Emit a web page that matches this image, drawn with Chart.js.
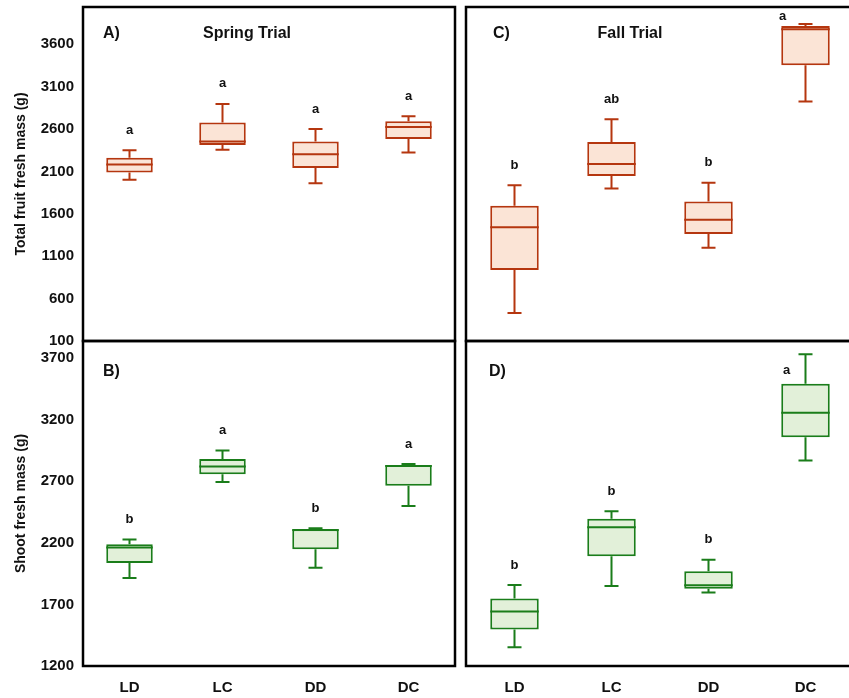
<!DOCTYPE html>
<html>
<head>
<meta charset="utf-8">
<script src="https://cdn.jsdelivr.net/npm/chart.js@4"></script>
<style>
  html, body { margin: 0; padding: 0; background: #fff; width: 849px; height: 698px; overflow: hidden; }
  canvas { position: absolute; }
</style>
</head>
<body>
<canvas id="panelA" width="470" height="362" style="left:0;top:0"></canvas>
<canvas id="panelC" width="410" height="362" style="left:456px;top:0"></canvas>
<canvas id="panelB" width="470" height="368" style="left:0;top:330px"></canvas>
<canvas id="panelD" width="410" height="368" style="left:456px;top:330px"></canvas>
<script>
const categories = ['LD', 'LC', 'DD', 'DC'];

const fruitTicks = [100, 600, 1100, 1600, 2100, 2600, 3100, 3600];
const shootTicks = [1200, 1700, 2200, 2700, 3200, 3700];

// Spring trial, total fruit fresh mass (g)
const springFruitLow    = [2002, 2357, 1962, 2325];
const springFruitQ1     = [2089, 2412, 2140, 2483];
const springFruitMedian = [2183, 2452, 2302, 2625];
const springFruitQ3     = [2263, 2677, 2452, 2692];
const springFruitHigh   = [2349, 2897, 2601, 2751];
const springFruitLetters = ['a', 'a', 'a', 'a'];

// Fall trial, total fruit fresh mass (g)
const fallFruitLow    = [431, 1899, 1201, 2925];
const fallFruitQ1     = [937, 2047, 1363, 3352];
const fallFruitMedian = [1441, 2187, 1529, 3778];
const fallFruitQ3     = [1694, 2447, 1745, 3817];
const fallFruitHigh   = [1938, 2716, 1967, 3840];
const fallFruitLetters = ['b', 'ab', 'b', 'a'];

// Spring trial, shoot fresh mass (g)
const springShootLow    = [1915, 2694, 1999, 2499];
const springShootQ1     = [2037, 2757, 2148, 2665];
const springShootMedian = [2162, 2820, 2305, 2825];
const springShootQ3     = [2189, 2882, 2311, 2833];
const springShootHigh   = [2227, 2950, 2319, 2841];
const springShootLetters = ['b', 'a', 'b', 'a'];

// Fall trial, shoot fresh mass (g)
const fallShootLow    = [1352, 1850, 1798, 2869];
const fallShootQ1     = [1496, 2091, 1828, 3059];
const fallShootMedian = [1643, 2328, 1855, 3257];
const fallShootQ3     = [1749, 2396, 1969, 3493];
const fallShootHigh   = [1858, 2458, 2064, 3733];
const fallShootLetters = ['b', 'b', 'b', 'a'];

const FONT = "'Liberation Sans', Arial, sans-serif";
const ORANGE = { stroke: '#b5360f', fill: '#fbe4d6' };
const GREEN = { stroke: '#1a7d1a', fill: '#e2f0d9' };

// whiskers, medians, letters, frame and panel captions
function boxPlot(p) {
  return {
    id: 'boxPlot',
    afterDatasetsDraw(chart) {
      const { ctx, chartArea: area } = chart;
      const y = chart.scales.y;
      const bars = chart.getDatasetMeta(0).data;
      ctx.save();
      ctx.strokeStyle = p.color.stroke;
      ctx.lineWidth = 2;
      bars.forEach((bar, i) => {
        const x = bar.x, half = bar.width / 2, cap = 7;
        const yLow = y.getPixelForValue(p.low[i]);
        const yQ1 = y.getPixelForValue(p.q1[i]);
        const yMed = y.getPixelForValue(p.median[i]);
        const yQ3 = y.getPixelForValue(p.q3[i]);
        const yHigh = y.getPixelForValue(p.high[i]);
        ctx.beginPath();
        ctx.moveTo(x, yQ3); ctx.lineTo(x, yHigh);
        ctx.moveTo(x - cap, yHigh); ctx.lineTo(x + cap, yHigh);
        ctx.moveTo(x, yQ1); ctx.lineTo(x, yLow);
        ctx.moveTo(x - cap, yLow); ctx.lineTo(x + cap, yLow);
        ctx.moveTo(x - half, yMed); ctx.lineTo(x + half, yMed);
        ctx.stroke();

        const nudge = (p.letterNudge || {})[i];
        ctx.fillStyle = '#111';
        ctx.font = `bold 13px ${FONT}`;
        ctx.textAlign = 'center';
        ctx.textBaseline = 'middle';
        if (nudge) ctx.fillText(p.letters[i], x + nudge.dx, yHigh + nudge.dy);
        else ctx.fillText(p.letters[i], x, yHigh - 20);
      });

      ctx.strokeStyle = '#000';
      ctx.lineWidth = 2.5;
      ctx.strokeRect(area.left, area.top, area.right - area.left, area.bottom - area.top);

      ctx.fillStyle = '#111';
      ctx.font = `bold 16px ${FONT}`;
      ctx.textBaseline = 'middle';
      ctx.textAlign = 'left';
      ctx.fillText(p.tag, area.left + p.tagX, area.top + p.tagY);
      if (p.title) {
        ctx.textAlign = 'center';
        ctx.fillText(p.title, area.left + 164, area.top + p.tagY);
      }
      ctx.restore();
    }
  };
}

function drawPanel(id, p) {
  const showY = !!p.yTitle;
  new Chart(document.getElementById(id), {
    type: 'bar',
    data: {
      labels: categories,
      datasets: [{
        data: p.q1.map((v, i) => [v, p.q3[i]]),
        backgroundColor: p.color.fill,
        borderColor: p.color.stroke,
        borderWidth: 2,
        borderSkipped: false,
        barPercentage: 0.5,
        categoryPercentage: 1
      }]
    },
    options: {
      responsive: false,
      animation: false,
      layout: { padding: p.padding, autoPadding: false },
      plugins: { legend: { display: false }, tooltip: { enabled: false } },
      scales: {
        x: {
          display: p.showX,
          grid: { display: false, drawTicks: false },
          border: { display: false },
          ticks: { padding: 13, color: '#111', font: { family: FONT, size: 15, weight: 'bold' } },
          afterFit: s => { if (p.showX) s.height = 32; }
        },
        y: {
          display: showY,
          min: p.min,
          max: p.max,
          grid: { display: false, drawTicks: false },
          border: { display: false },
          ticks: {
            padding: 9, color: '#111',
            font: { family: FONT, size: 15, weight: 'bold' },
            callback: v => String(v)
          },
          afterBuildTicks: s => { s.ticks = p.ticks.map(v => ({ value: v })); },
          afterFit: s => {
            if (showY) s.width = 83;
            s.paddingTop = 0;
            s.paddingBottom = 0;
          },
          title: {
            display: showY,
            text: p.yTitle,
            color: '#111',
            padding: { top: 13, bottom: 0 },
            font: { family: FONT, size: 14, weight: 'bold' }
          }
        }
      }
    },
    plugins: [boxPlot(p)]
  });
}

drawPanel('panelA', {
  low: springFruitLow, q1: springFruitQ1, median: springFruitMedian, q3: springFruitQ3, high: springFruitHigh,
  letters: springFruitLetters, ticks: fruitTicks, min: 100, max: 4040,
  color: ORANGE, showX: false, yTitle: 'Total fruit fresh mass (g)',
  tag: 'A)', tagX: 20, tagY: 27, title: 'Spring Trial',
  padding: { top: 7, right: 15, bottom: 21, left: 0 }
});

drawPanel('panelC', {
  low: fallFruitLow, q1: fallFruitQ1, median: fallFruitMedian, q3: fallFruitQ3, high: fallFruitHigh,
  letters: fallFruitLetters, ticks: fruitTicks, min: 100, max: 4040,
  color: ORANGE, showX: false,
  tag: 'C)', tagX: 27, tagY: 27, title: 'Fall Trial',
  letterNudge: { 3: { dx: -23, dy: -8 } },
  padding: { top: 7, right: 12, bottom: 21, left: 10 }
});

drawPanel('panelB', {
  low: springShootLow, q1: springShootQ1, median: springShootMedian, q3: springShootQ3, high: springShootHigh,
  letters: springShootLetters, ticks: shootTicks, min: 1200, max: 3840,
  color: GREEN, showX: true, yTitle: 'Shoot fresh mass (g)',
  tag: 'B)', tagX: 20, tagY: 31,
  padding: { top: 11, right: 15, bottom: 0, left: 0 }
});

drawPanel('panelD', {
  low: fallShootLow, q1: fallShootQ1, median: fallShootMedian, q3: fallShootQ3, high: fallShootHigh,
  letters: fallShootLetters, ticks: shootTicks, min: 1200, max: 3840,
  color: GREEN, showX: true,
  tag: 'D)', tagX: 23, tagY: 31,
  letterNudge: { 3: { dx: -19, dy: 16 } },
  padding: { top: 11, right: 12, bottom: 0, left: 10 }
});
</script>
</body>
</html>
